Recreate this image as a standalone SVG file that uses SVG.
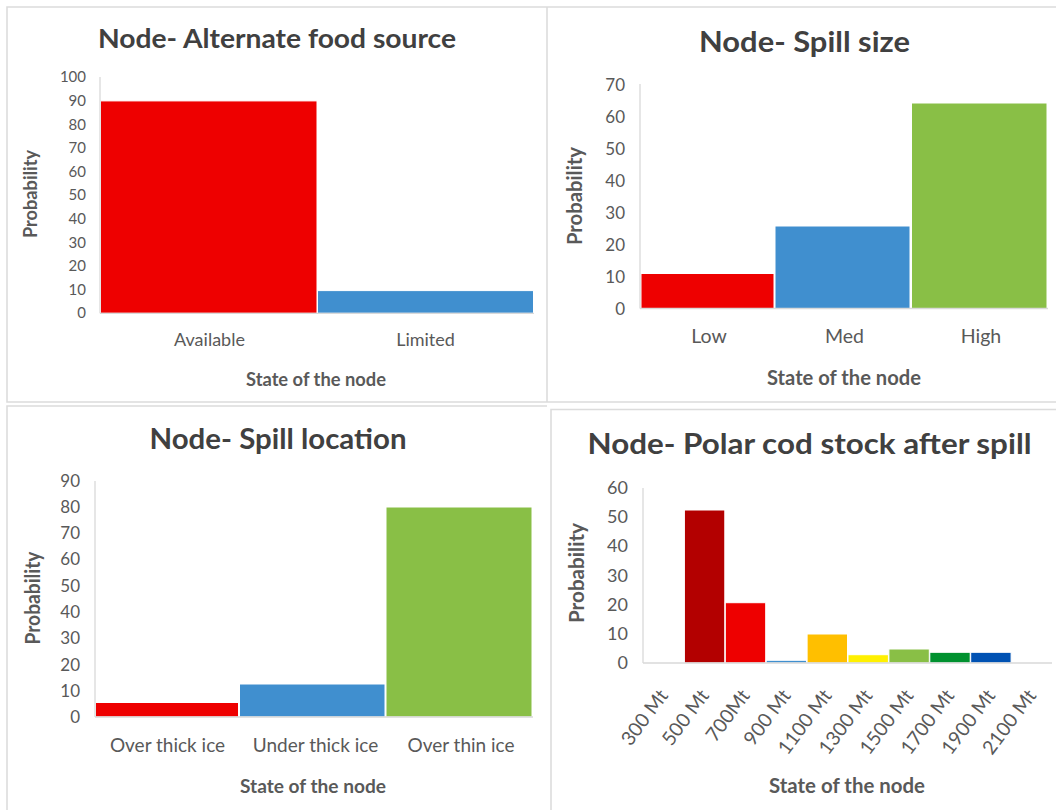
<svg xmlns="http://www.w3.org/2000/svg" width="1056" height="810" viewBox="0 0 1056 810">
<style>
.frame{fill:none;stroke:#dcdcdc;stroke-width:1.6}
.axis{stroke:#d9d9d9;stroke-width:1.3;fill:none}
.title{font-family:Lato,"Open Sans",sans-serif;font-weight:bold;fill:#404040;text-anchor:middle}
.tick{font-family:Lato,"Open Sans",sans-serif;fill:#595959;text-anchor:end}
.cat{font-family:Lato,"Open Sans",sans-serif;fill:#595959;text-anchor:middle}
.rot{font-family:Lato,"Open Sans",sans-serif;fill:#595959;text-anchor:end}
.atitle{font-family:Lato,"Open Sans",sans-serif;font-weight:bold;fill:#595959;text-anchor:middle}
.bar{stroke:#ffffff;stroke-width:1}
.red{fill:#ee0000}.blue{fill:#408fcf}.green{fill:#89bf46}
.dred{fill:#b30000}.orange{fill:#ffbf00}.yellow{fill:#fff000}.dgreen{fill:#00912f}.dblue{fill:#0052b3}
</style>
<rect width="1056" height="810" fill="#ffffff"/>
<g id="frames">
<path class="frame" d="M1056,7 H7 V402 H547 V7 M547,402 H1056"/>
<path class="frame" d="M547,406 H7 V810"/>
<path class="frame" d="M1056,409.5 H551 V810"/>
</g>

<g id="chart-alternate-food-source">
<text class="title" x="277" y="48" font-size="27" textLength="358" lengthAdjust="spacingAndGlyphs">Node- Alternate food source</text>
<g font-size="15">
<text class="tick" x="86" y="318.3">0</text>
<text class="tick" x="86" y="294.7">10</text>
<text class="tick" x="86" y="271.1">20</text>
<text class="tick" x="86" y="247.5">30</text>
<text class="tick" x="86" y="223.9">40</text>
<text class="tick" x="86" y="200.3">50</text>
<text class="tick" x="86" y="176.7">60</text>
<text class="tick" x="86" y="153.1">70</text>
<text class="tick" x="86" y="129.5">80</text>
<text class="tick" x="86" y="105.9">90</text>
<text class="tick" x="86" y="82.3">100</text>
</g>
<rect class="bar red" x="100.5" y="100.9" width="216.5" height="212.4"/>
<rect class="bar blue" x="317.5" y="290.6" width="216" height="22.7"/>
<line class="axis" x1="100" y1="77" x2="100" y2="313.3"/>
<line class="axis" x1="100" y1="313.3" x2="534" y2="313.3"/>
<text class="cat" x="209.5" y="346" font-size="18">Available</text>
<text class="cat" x="425.5" y="346" font-size="18">Limited</text>
<text class="atitle" x="316" y="386" font-size="18.5" textLength="140" lengthAdjust="spacingAndGlyphs">State of the node</text>
<text class="atitle" transform="translate(37,194) rotate(-90)" font-size="18.5" textLength="88" lengthAdjust="spacingAndGlyphs">Probability</text>
</g>

<g id="chart-spill-size">
<text class="title" x="804.5" y="52" font-size="28" textLength="211" lengthAdjust="spacingAndGlyphs">Node- Spill size</text>
<g font-size="17">
<text class="tick" x="625" y="314.5">0</text>
<text class="tick" x="625" y="282.5">10</text>
<text class="tick" x="625" y="250.5">20</text>
<text class="tick" x="625" y="218.5">30</text>
<text class="tick" x="625" y="186.5">40</text>
<text class="tick" x="625" y="154.5">50</text>
<text class="tick" x="625" y="122.5">60</text>
<text class="tick" x="625" y="90.5">70</text>
</g>
<rect class="bar red" x="641" y="273.5" width="133" height="35"/>
<rect class="bar blue" x="775" y="226" width="135" height="82.5"/>
<rect class="bar green" x="911.5" y="103" width="135.5" height="205.5"/>
<line class="axis" x1="640" y1="84" x2="640" y2="308.5"/>
<line class="axis" x1="640" y1="308.5" x2="1048" y2="308.5"/>
<text class="cat" x="709" y="343" font-size="19.5">Low</text>
<text class="cat" x="844.5" y="343" font-size="19.5">Med</text>
<text class="cat" x="981" y="343" font-size="19.5">High</text>
<text class="atitle" x="844" y="385" font-size="20" textLength="154" lengthAdjust="spacingAndGlyphs">State of the node</text>
<text class="atitle" transform="translate(582,196) rotate(-90)" font-size="20.5" textLength="98" lengthAdjust="spacingAndGlyphs">Probability</text>
</g>

<g id="chart-spill-location">
<text class="title" x="278" y="449" font-size="28" textLength="257" lengthAdjust="spacingAndGlyphs">Node- Spill location</text>
<g font-size="17">
<text class="tick" x="80" y="723">0</text>
<text class="tick" x="80" y="696.7">10</text>
<text class="tick" x="80" y="670.5">20</text>
<text class="tick" x="80" y="644.2">30</text>
<text class="tick" x="80" y="618">40</text>
<text class="tick" x="80" y="591.7">50</text>
<text class="tick" x="80" y="565.4">60</text>
<text class="tick" x="80" y="539.2">70</text>
<text class="tick" x="80" y="512.9">80</text>
<text class="tick" x="80" y="486.7">90</text>
</g>
<rect class="bar red" x="95.5" y="702.5" width="143" height="14.5"/>
<rect class="bar blue" x="239.5" y="684" width="145.5" height="33"/>
<rect class="bar green" x="386" y="507" width="146" height="210"/>
<line class="axis" x1="95" y1="481" x2="95" y2="717"/>
<line class="axis" x1="95" y1="717" x2="533" y2="717"/>
<text class="cat" x="167.5" y="752" font-size="19">Over thick ice</text>
<text class="cat" x="315.5" y="752" font-size="19">Under thick ice</text>
<text class="cat" x="461" y="752" font-size="19">Over thin ice</text>
<text class="atitle" x="313" y="793" font-size="19" textLength="146" lengthAdjust="spacingAndGlyphs">State of the node</text>
<text class="atitle" transform="translate(40,598) rotate(-90)" font-size="20" textLength="93" lengthAdjust="spacingAndGlyphs">Probability</text>
</g>

<g id="chart-polar-cod-stock">
<text class="title" x="809.5" y="454" font-size="28" textLength="444" lengthAdjust="spacingAndGlyphs">Node- Polar cod stock after spill</text>
<g font-size="18">
<text class="tick" x="628" y="669">0</text>
<text class="tick" x="628" y="639.8">10</text>
<text class="tick" x="628" y="610.7">20</text>
<text class="tick" x="628" y="581.5">30</text>
<text class="tick" x="628" y="552.3">40</text>
<text class="tick" x="628" y="523.2">50</text>
<text class="tick" x="628" y="494">60</text>
</g>
<rect class="bar dred" x="684.4" y="510" width="40.4" height="153"/>
<rect class="bar red" x="725.3" y="602.7" width="40.4" height="60.3"/>
<rect class="bar blue" x="766.2" y="660.3" width="40.4" height="2.7"/>
<rect class="bar orange" x="807.1" y="634" width="40.4" height="29"/>
<rect class="bar yellow" x="848" y="654.7" width="40.4" height="8.3"/>
<rect class="bar green" x="888.9" y="649" width="40.4" height="14"/>
<rect class="bar dgreen" x="929.8" y="652.3" width="40.4" height="10.7"/>
<rect class="bar dblue" x="970.7" y="652.3" width="40.4" height="10.7"/>
<line class="axis" x1="643" y1="488" x2="643" y2="663"/>
<line class="axis" x1="643" y1="663" x2="1052" y2="663"/>
<g font-size="19.5">
<text class="rot" transform="translate(669,696) rotate(-53)">300 Mt</text>
<text class="rot" transform="translate(709.9,696) rotate(-53)">500 Mt</text>
<text class="rot" transform="translate(750.8,696) rotate(-53)">700Mt</text>
<text class="rot" transform="translate(791.7,696) rotate(-53)">900 Mt</text>
<text class="rot" transform="translate(832.6,696) rotate(-53)">1100 Mt</text>
<text class="rot" transform="translate(873.5,696) rotate(-53)">1300 Mt</text>
<text class="rot" transform="translate(914.4,696) rotate(-53)">1500 Mt</text>
<text class="rot" transform="translate(955.3,696) rotate(-53)">1700 Mt</text>
<text class="rot" transform="translate(996.2,696) rotate(-53)">1900 Mt</text>
<text class="rot" transform="translate(1037.1,696) rotate(-53)">2100 Mt</text>
</g>
<text class="atitle" x="847" y="793" font-size="20" textLength="156" lengthAdjust="spacingAndGlyphs">State of the node</text>
<text class="atitle" transform="translate(584,573) rotate(-90)" font-size="21" textLength="100" lengthAdjust="spacingAndGlyphs">Probability</text>
</g>
</svg>
